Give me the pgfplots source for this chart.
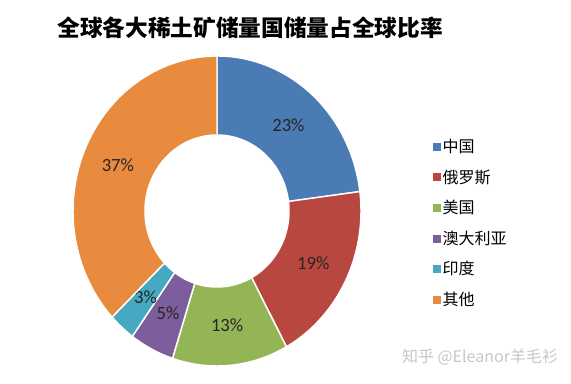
\documentclass[border=0pt]{standalone}
\usepackage{pgfplots}
\pgfplotsset{compat=1.18}
\usepackage{fontspec}
\setmainfont{Carlito}
\newfontfamily\cjk{Noto Sans CJK SC}
\definecolor{cChina}{HTML}{4A7BB4}
\definecolor{cRussia}{HTML}{B8473F}
\definecolor{cUSA}{HTML}{94B556}
\definecolor{cAus}{HTML}{7C5E9C}
\definecolor{cIndia}{HTML}{47A8C2}
\definecolor{cOther}{HTML}{E98B3E}
\definecolor{labeltext}{HTML}{262626}
% #1 cumulative start (%), #2 share (%), #3 colour
\newcommand{\ring}[3]{%
  \addplot[fill=#3, draw=white, line width=1.1pt, domain=0:201, samples=202, variable=\t]
   ({217 + (\t<100.5 ? 144 : 72)*cos(\t<100.5 ? (90-3.6*#1) - 3.6*#2*\t/100 : (90-3.6*(#1+#2)) + 3.6*#2*(\t-101)/100)},
    {173 + (\t<100.5 ? 155 : 76)*sin(\t<100.5 ? (90-3.6*#1) - 3.6*#2*\t/100 : (90-3.6*(#1+#2)) + 3.6*#2*(\t-101)/100)}) -- cycle;
  \node[text=labeltext, font=\fontsize{14}{16}\selectfont] at (axis cs:{217+108*cos(90-3.6*(#1+#2/2))},{173+115*sin(90-3.6*(#1+#2/2))}) {#2\%};
}
\begin{document}
\begin{tikzpicture}
\begin{axis}[
  scale only axis, width=428.25pt, height=288pt,
  xmin=0, xmax=571, ymin=0, ymax=384,
  hide axis, clip=false,
  legend style={at={(axis cs:429,249)}, anchor=north west, draw=none, fill=none,
    font=\cjk\fontsize{12}{14}\selectfont, row sep=9.3pt, nodes={inner sep=1pt}},
  legend cell align=left,
  legend image code/.code={\fill[#1,draw=none] (0pt,-3pt) rectangle (6pt,3pt);},
]
\path (axis cs:0,0) rectangle (axis cs:571,384);
\ring{0}{23}{cChina}
\addlegendentry{中国}
\ring{23}{19}{cRussia}
\addlegendentry{俄罗斯}
\ring{42}{13}{cUSA}
\addlegendentry{美国}
\ring{55}{5}{cAus}
\addlegendentry{澳大利亚}
\ring{60}{3}{cIndia}
\addlegendentry{印度}
\ring{63}{37}{cOther}
\addlegendentry{其他}
\node[font=\cjk\bfseries\fontsize{17}{19}\selectfont, text=black] at (axis cs:250,356) {全球各大稀土矿储量国储量占全球比率};
\node[font=\cjk\fontsize{12}{14}\selectfont, text=black!22] at (axis cs:480,27) {知乎 @Eleanor羊毛衫};
\end{axis}
\end{tikzpicture}
\end{document}
